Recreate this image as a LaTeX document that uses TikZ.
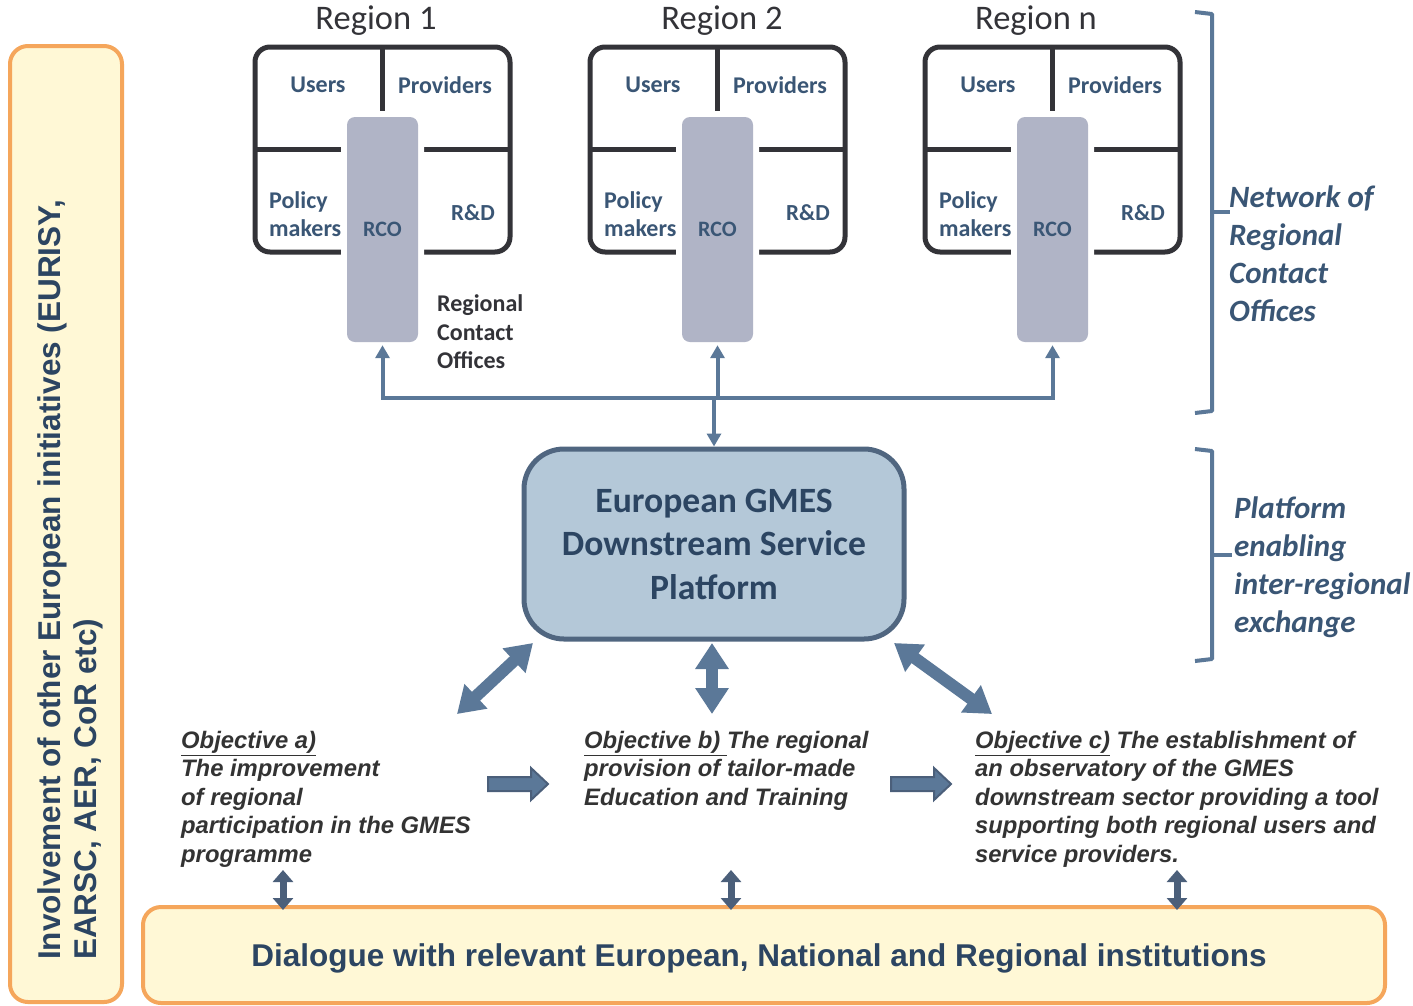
\documentclass[tikz,border=0pt]{standalone}
\usepackage{fontspec}
\setmainfont{Carlito}
\newfontfamily\arialf{Liberation Sans}
\usetikzlibrary{arrows.meta}
\definecolor{navy}{HTML}{2C4562}
\definecolor{lbl}{HTML}{3A5675}
\definecolor{arr}{HTML}{5B7898}
\definecolor{arrdark}{HTML}{4B5F7A}
\definecolor{regline}{HTML}{333338}
\definecolor{rcofill}{HTML}{B0B4C6}
\definecolor{platfill}{HTML}{B4C8D8}
\definecolor{platline}{HTML}{506680}
\definecolor{orng}{HTML}{F5A65B}
\definecolor{ylw}{HTML}{FFF8D6}
\definecolor{objtxt}{HTML}{333333}
\tikzset{
  orangebox/.style={draw=orng,fill=ylw,line width=4pt,rounded corners=18pt},
  regbox/.style={draw=regline,line width=5pt,rounded corners=15pt},
  regdiv/.style={draw=regline,line width=5pt},
  rcobox/.style={fill=rcofill,rounded corners=8pt,minimum width=71pt,minimum height=225pt,inner sep=0pt,
     preaction={draw=white,line width=12pt},text=lbl,font=\fontsize{22}{26}\selectfont\bfseries},
  cell/.style={text=lbl,font=\fontsize{24}{28}\selectfont\bfseries,inner sep=0pt},
  reglabel/.style={text=regline,font=\fontsize{34.5}{38}\selectfont,inner sep=0pt},
  conn/.style={draw=arr,line width=4pt},
  tip/.style={-{Triangle[width=14pt,length=13pt]}},
  plat/.style={draw=platline,fill=platfill,line width=5pt,rounded corners=40pt,minimum width=380pt,minimum height=190pt,
     text=navy,align=center,font=\fontsize{35.6}{43.5}\selectfont\bfseries},
  bigarrow/.style={draw=arr,line width=12pt,{Triangle[width=32pt,length=26pt]}-{Triangle[width=32pt,length=26pt]}},
  smallarrow/.style={draw=arrdark,line width=7pt,{Triangle[width=20pt,length=12pt]}-{Triangle[width=20pt,length=12pt]}},
  blockarr/.style={fill=arr,draw=arrdark,line width=2pt,line join=miter},
  objtext/.style={text=objtxt,align=left,inner sep=0pt,anchor=north west,
     font=\arialf\fontsize{23.8}{28.5}\selectfont\bfseries\itshape},
  bracket/.style={draw=arr,line width=4pt},
  sidetext/.style={text=lbl,align=left,inner sep=0pt,anchor=west,font=\fontsize{31}{38}\selectfont\bfseries\itshape},
}
\begin{document}
\begin{tikzpicture}[x=1pt,y=-1pt]
\useasboundingbox (0,0) rectangle (1413,1005);
\fill[white] (0,0) rectangle (1413,1005);

% left orange box
\draw[orangebox] (10,46) rectangle (122,1002);
\node[rotate=90,anchor=west,align=left,inner sep=0pt,text=navy,
  font=\arialf\fontsize{31.5}{36}\selectfont\bfseries] (invol) at (70,960)
  {Involvement of other European initiatives (EURISY,\\EARSC, AER, CoR etc)};

% bottom orange box
\draw[orangebox] (143,907) rectangle (1385,1003);
\node[text=navy,inner sep=0pt,font=\arialf\fontsize{31.5}{34}\selectfont\bfseries] (dialog) at (759,958)
  {Dialogue with relevant European, National and Regional institutions};

% region boxes
\foreach \i/\lab/\lx in {1/1/376,2/2/722,3/n/1036}{
  \pgfmathsetmacro{\dx}{(\i-1)*335}
  \node[reglabel] (reg\i) at (\lx,21) {Region \lab};
  \draw[regbox] ({255+\dx},47) rectangle ({510+\dx},252);
  \draw[regdiv] ({382+\dx},47) -- ({382+\dx},112);
  \draw[regdiv] ({255+\dx},149) -- ({510+\dx},149);
  \node[rcobox] (rco\i) at ({382.5+\dx},229.5) {RCO};
  \node[cell] (users\i) at ({318+\dx},85) {Users};
  \node[cell] (prov\i) at ({445+\dx},85) {Providers};
  \node[cell,align=left,anchor=west,font=\fontsize{24}{28}\selectfont\bfseries] (pol\i) at ({269+\dx},214) {Policy\\makers};
  \node[cell,font=\fontsize{23}{27}\selectfont\bfseries] (rd\i) at ({473+\dx},213) {R\&D};
}
\node[inner sep=0pt,anchor=west,align=left,text=regline,font=\fontsize{24}{28.5}\selectfont\bfseries] (rcotext) at (437,332)
  {Regional\\Contact\\Offices};

% connectors to RCOs
\coordinate (busL) at (rco1.south |- 0,398);
\coordinate (busR) at (rco3.south |- 0,398);
\draw[conn,line cap=rect] (busL) -- (busR);
\foreach \i in {1,2,3}{
  \draw[conn,tip] (rco\i.south |- busL) -- ([yshift=-3pt]rco\i.south);
}

% platform
\node[plat] (plat) at (714,544) {European GMES\\Downstream Service\\Platform};
\draw[conn,tip] (plat.north |- busL) -- (plat.north);

% objectives
\node[objtext] (obja) at (181,731)
  {\underline{Objective a)}\\The improvement\\of regional\\participation in the GMES\\programme};
\node[objtext] (objb) at (584,731)
  {\underline{Objective b) }The regional\\provision of tailor-made\\Education and Training};
\node[objtext] (objc) at (975,731)
  {\underline{Objective c)} The establishment of\\an observatory of the GMES\\downstream sector providing a tool\\supporting both regional users and\\service providers.};

% big double arrows
\coordinate (pa1) at (533,643);
\coordinate (pa2) at (712,643);
\coordinate (pa3) at (894,643);
\coordinate (oa) at (457,714);
\coordinate (ob) at (712,714);
\coordinate (oc) at (992,714);
\draw[bigarrow] (pa1) -- (oa);
\draw[bigarrow] (pa2) -- (ob);
\draw[bigarrow] (pa3) -- (oc);

% block arrows
\draw[blockarr] (488,777) -- (531,777) -- (531,768) -- (548,784) -- (531,800) -- (531,791) -- (488,791) -- cycle;
\draw[blockarr] (891,777) -- (934,777) -- (934,768) -- (951,784) -- (934,800) -- (934,791) -- (891,791) -- cycle;

% small double arrows to dialogue box
\foreach \x in {283,731,1177}{
  \draw[smallarrow] (\x,870) -- (\x,910);
}

% brackets
\draw[bracket,line join=round] (1195,12) -- (1212,14) -- (1212,411) -- (1195,413);
\draw[bracket] (1212,212) -- (1230,212);
\node[sidetext] (net) at (1229,254) {Network of\\Regional\\Contact\\Offices};
\draw[bracket,line join=round] (1195,449) -- (1212,451) -- (1212,659) -- (1195,661);
\draw[bracket] (1212,555) -- (1232,555);
\node[sidetext] (platt) at (1234,567) {Platform\\enabling\\inter-regional\\exchange};
\end{tikzpicture}
\end{document}
